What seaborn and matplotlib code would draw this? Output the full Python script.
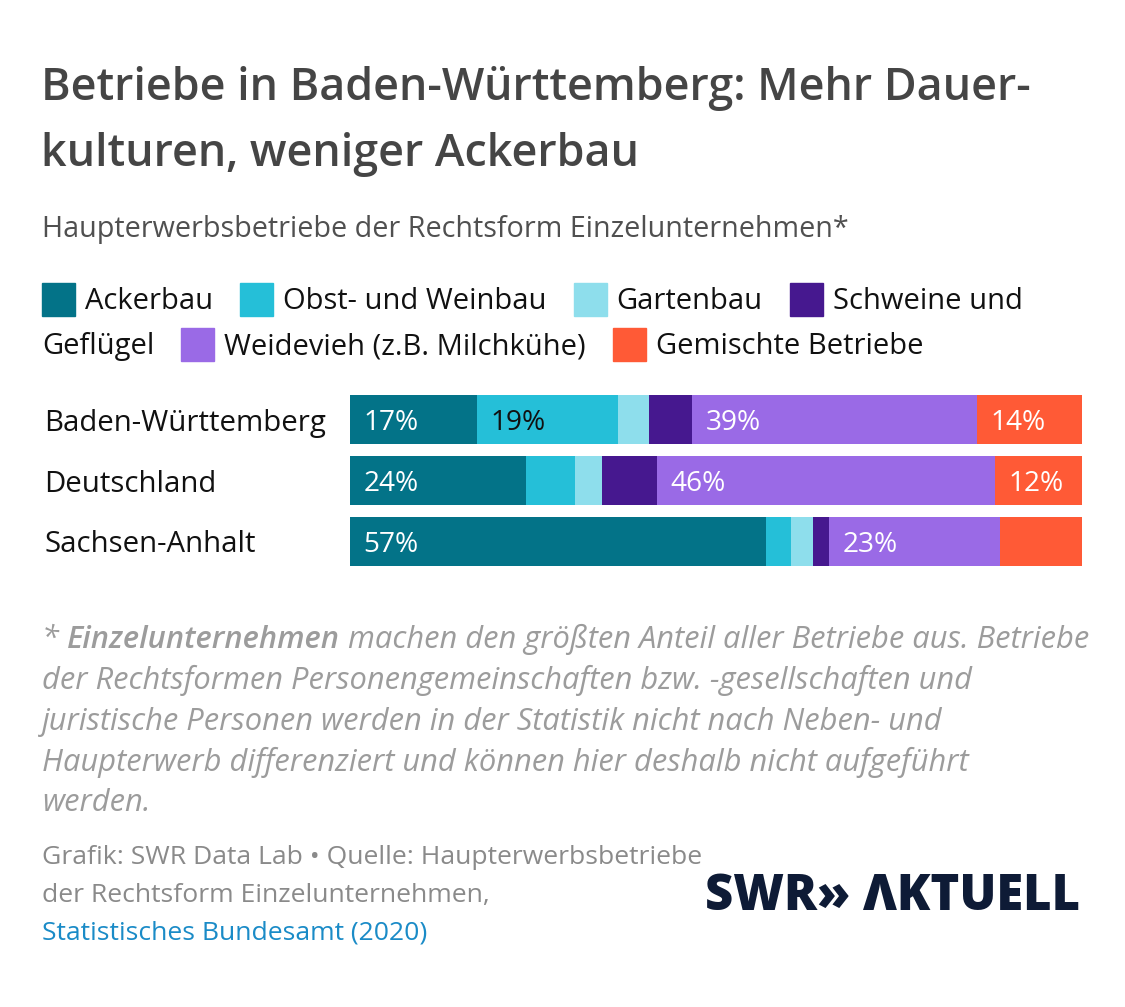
import matplotlib
matplotlib.use("Agg")
import matplotlib.pyplot as plt
import matplotlib.transforms as mtransforms
import seaborn as sns
import pandas as pd
import numpy as np
from matplotlib.patches import Rectangle

# ---------------- data ----------------
regions = ["Baden-Württemberg", "Deutschland", "Sachsen-Anhalt"]
categories = ["Ackerbau", "Obst- und Weinbau", "Gartenbau", "Schweine und Geflügel",
              "Weidevieh (z.B. Milchkühe)", "Gemischte Betriebe"]
ackerbau = [17.3, 24.0, 56.8]
obst_wein = [19.3, 6.8, 3.5]
gartenbau = [4.3, 3.6, 2.9]
schweine = [5.8, 7.5, 2.3]
weidevieh = [38.9, 46.2, 23.3]
gemischt = [14.4, 11.9, 11.2]
# which segments carry a percentage label (per region)
show_label = {
    "Baden-Württemberg": ["Ackerbau", "Obst- und Weinbau", "Weidevieh (z.B. Milchkühe)", "Gemischte Betriebe"],
    "Deutschland": ["Ackerbau", "Weidevieh (z.B. Milchkühe)", "Gemischte Betriebe"],
    "Sachsen-Anhalt": ["Ackerbau", "Weidevieh (z.B. Milchkühe)"],
}
colors = ["#037388", "#25bfd8", "#8edeec", "#46188f", "#9a6ae6", "#ff5a36"]
label_colors = ["white", "#111111", "#111111", "white", "white", "white"]

title_lines = ["Betriebe in Baden-Württemberg: Mehr Dauer-", "kulturen, weniger Ackerbau"]
subtitle = "Haupterwerbsbetriebe der Rechtsform Einzelunternehmen*"
footnote_bold = "Einzelunternehmen"
footnote_first_rest = " machen den größten Anteil aller Betriebe aus. Betriebe"
footnote_lines = [
    "der Rechtsformen Personengemeinschaften bzw. -gesellschaften und",
    "juristische Personen werden in der Statistik nicht nach Neben- und",
    "Haupterwerb differenziert und können hier deshalb nicht aufgeführt",
    "werden.",
]
credit_lines = ["Grafik: SWR Data Lab • Quelle: Haupterwerbsbetriebe",
                "der Rechtsform Einzelunternehmen,"]
source_line = "Statistisches Bundesamt (2020)"
logo = "SWR» ΛKTUELL"

W, H = 1125, 1007
sns.set_theme(style="white")
FAM = ["Open Sans", "DejaVu Sans"]
plt.rcParams["font.family"] = FAM

fig = plt.figure(figsize=(W / 100, H / 100), dpi=100)
fig.patch.set_facecolor("white")
fig.canvas.draw()
renderer = fig.canvas.get_renderer()


def fy(px):
    return 1 - px / H


def fx(px):
    return px / W


def text_w(s, size, **kw):
    t = fig.text(0, 0, s, fontsize=size, **kw)
    w = t.get_window_extent(renderer).width
    t.remove()
    return w


def fit(s, target_px, **kw):
    """font size so that string s spans target_px pixels"""
    return 20 * target_px / text_w(s, 20, **kw)


TXT = "#111111"
GRAY = "#9c9c9c"

# ---------------- titles ----------------
TITLE_FS = fit(title_lines[0], 988, fontweight="semibold")
fig.text(fx(41), fy(100), title_lines[0], fontsize=TITLE_FS,
         fontweight="semibold", color="#454545", va="baseline")
fig.text(fx(41), fy(166), title_lines[1], fontsize=TITLE_FS,
         fontweight="semibold", color="#454545", va="baseline")
SUB_FS = fit(subtitle, 806)
fig.text(fx(42), fy(237), subtitle, fontsize=SUB_FS, color="#505050", va="baseline")

# ---------------- bars ----------------
values = np.array([ackerbau, obst_wein, gartenbau, schweine, weidevieh, gemischt])
cum = values.cumsum(axis=0)
ax = fig.add_axes([fx(350), fy(572), fx(1082) - fx(350), (572 - 389) / H])
for i in range(len(categories) - 1, -1, -1):
    df = pd.DataFrame({"region": regions, "total": cum[i]})
    sns.barplot(data=df, x="total", y="region", orient="h", color=colors[i],
                width=0.803, saturation=1, linewidth=0, ax=ax)
ax.set_xlim(0, 100)
ax.set_ylim(2.5, -0.5)
ax.axis("off")

BAR_FS = fit("17%", 55)
CAT_FS = fit(regions[0], 281)
blend = mtransforms.blended_transform_factory(fig.transFigure, ax.transData)
for r, reg in enumerate(regions):
    for i, cat in enumerate(categories):
        if cat in show_label[reg]:
            left = cum[i, r] - values[i, r]
            ax.text(left + 1.85, r, f"{int(round(values[i, r]))}%", color=label_colors[i],
                    fontsize=BAR_FS, va="center_baseline", ha="left")
    ax.text(fx(44), r, reg, fontsize=CAT_FS, color=TXT, va="center_baseline", ha="left",
            transform=blend)

# ---------------- legend (flowing like HTML) ----------------
LEG_FS = fit(categories[1], 263)
x = 42.0
line_base = [309, 354]
line = 0
SQ = 33
RIGHT = 1082
for cat, col in zip(categories, colors):
    words = cat.split(" ")
    if x + SQ + 10 + text_w(words[0], LEG_FS) > RIGHT:
        line += 1
        x = 42.0
    base = line_base[line]
    fig.patches.append(Rectangle((fx(x), fy(base + 7)), SQ / W, SQ / H,
                                 transform=fig.transFigure, color=col, figure=fig))
    x += SQ + 10
    run = words[0]
    for w in words[1:]:
        if x + text_w(run + " " + w, LEG_FS) > RIGHT:
            fig.text(fx(x), fy(base), run, fontsize=LEG_FS, color=TXT, va="baseline")
            line += 1
            x = 42.0
            base = line_base[line]
            run = w
        else:
            run = run + " " + w
    fig.text(fx(x), fy(base), run, fontsize=LEG_FS, color=TXT, va="baseline")
    x += text_w(run, LEG_FS) + 27

# ---------------- footnote ----------------
FN_FS = fit(footnote_lines[0], 930, style="italic")
foot_base = [648, 689, 730, 771, 811]
t0 = fig.text(fx(42), fy(foot_base[0]), "* ", fontsize=FN_FS, style="italic",
              color=GRAY, va="baseline")
bb0 = t0.get_window_extent(renderer)
t1 = fig.text(bb0.x1 / W, fy(foot_base[0]), footnote_bold, fontsize=FN_FS, style="italic",
              fontweight="semibold", color=GRAY, va="baseline")
bb1 = t1.get_window_extent(renderer)
fig.text(bb1.x1 / W, fy(foot_base[0]), footnote_first_rest,
         fontsize=FN_FS, style="italic", color=GRAY, va="baseline")
for s, b in zip(footnote_lines, foot_base[1:]):
    fig.text(fx(42), fy(b), s, fontsize=FN_FS, style="italic", color=GRAY, va="baseline")

# ---------------- credits ----------------
CR_FS = fit(credit_lines[0], 658)
fig.text(fx(42), fy(864), credit_lines[0], fontsize=CR_FS, color="#8a8a8a", va="baseline")
fig.text(fx(42), fy(902), credit_lines[1], fontsize=CR_FS, color="#8a8a8a", va="baseline")
fig.text(fx(42), fy(940), source_line, fontsize=CR_FS, color="#1a8bc7", va="baseline")

# logo
LOGO_FS = fit(logo, 375, fontweight="heavy")
fig.text(fx(1080), fy(910), logo, fontsize=LOGO_FS, fontweight="heavy",
         color="#0e1b36", va="baseline", ha="right")

fig.savefig("out.png", dpi=100, facecolor="white")
